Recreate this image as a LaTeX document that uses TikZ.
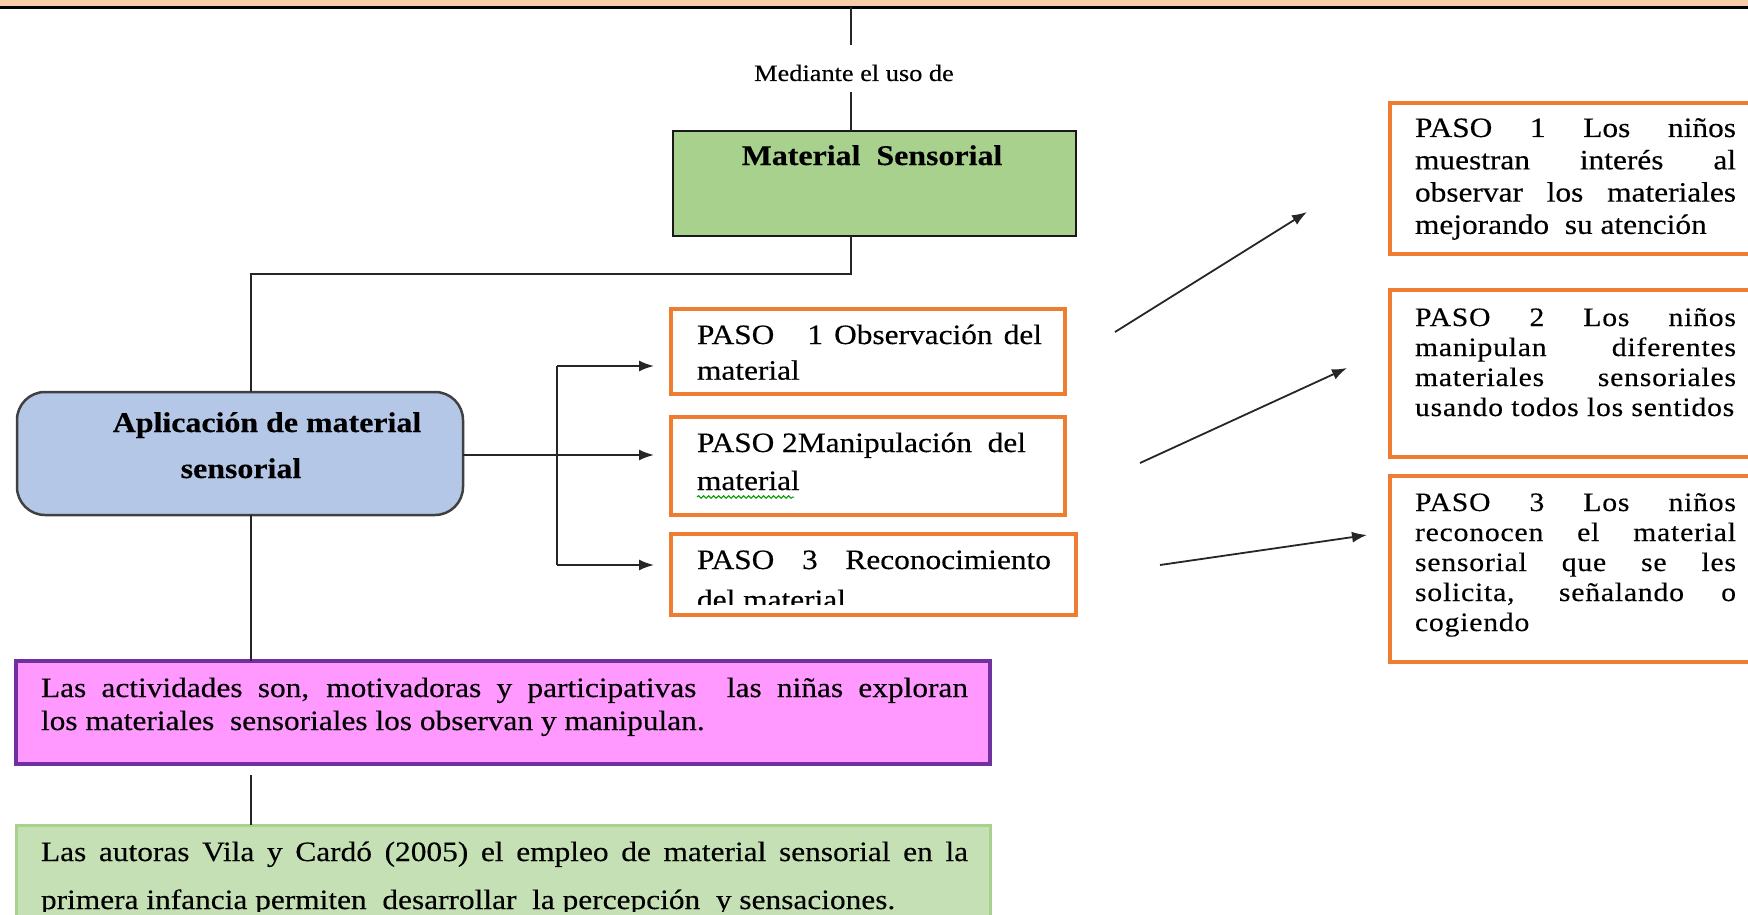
\documentclass[tikz,border=0pt]{standalone}
\usepackage{fontspec}
\setmainfont[FakeStretch=1.12,FakeBold=0.35]{Liberation Serif}
\usetikzlibrary{arrows.meta,decorations.pathmorphing}
\definecolor{peach}{HTML}{F8CBAD}
\definecolor{matgreen}{HTML}{A9D18E}
\definecolor{apblue}{HTML}{B4C7E7}
\definecolor{pasoorange}{HTML}{ED7D31}
\definecolor{pinkfill}{HTML}{FF99FF}
\definecolor{purpleb}{HTML}{7030A0}
\definecolor{lightgreen}{HTML}{C5E0B4}
\definecolor{greenborder}{HTML}{A9D18E}
\begin{document}
\begin{tikzpicture}[x=1pt,y=-1pt,
  box/.style={rectangle, inner sep=0pt, outer sep=0pt},
  pasobox/.style={box, draw=pasoorange, line width=4pt, fill=white},
  txt/.style={inner sep=0pt, outer sep=0pt, anchor=base west, align=justify},
  conn/.style={line width=1.8pt, draw=black!85},
  arr/.style={conn, -{Latex[length=15pt,width=11pt]}},
  body/.style={font=\fontsize{28}{#1}\selectfont},
  bold/.style={font=\bfseries\fontsize{28.5}{33}\selectfont, inner sep=0pt, anchor=base},
]
\useasboundingbox (0,0) rectangle (1748,915);
\clip (0,0) rectangle (1748,915);

% top band
\node[box, draw=black, line width=2.5pt, fill=peach, minimum width=1800pt, minimum height=40pt, anchor=south] (band) at (874,7.5) {};
\coordinate (m1) at (851,45);
\coordinate (m2) at (851,92);
\node[inner sep=0pt, font=\fontsize{23.5}{28}\selectfont, anchor=base] (med) at (854,81) {Mediante el uso de};
\draw[conn] (band.south -| m1) -- (m1);

% Material sensorial
\node[box, draw=black!90, line width=2.5pt, fill=matgreen, minimum width=403pt, minimum height=105pt] (mat) at (874.5,183.5) {};
\node[bold] (matt) at (872,165) {Material\ \ Sensorial};
\draw[conn] (m2) -- (m2 |- mat.north);

% Aplicacion
\node[box, draw=black!75, line width=2.5pt, fill=apblue, rounded corners=28pt, minimum width=446pt, minimum height=123pt] (aplic) at (240,453.5) {};
\node[bold] (ap1) at (267,432) {Aplicación de material};
\node[bold] (ap2) at (241,478) {sensorial};

\coordinate (j1) at (251,274);
\draw[conn] (m2 |- mat.south) |- (j1) -- (j1 |- aplic.north);

% PASO boxes
\node[pasobox, minimum width=394pt, minimum height=85pt] (p1) at (868,351.5) {};
\node[pasobox, minimum width=394pt, minimum height=98pt] (p2) at (868,466) {};
\node[pasobox, minimum width=405pt, minimum height=81pt] (p3) at (873.5,574.5) {};

\node[txt, body=35.7, text width=345pt] (p1t) at (697,344) {PASO\ \ \ 1 Observación del\linebreak material};
\node[txt, body=38, text width=329pt] (p2t) at (697,452) {PASO 2Manipulación\ \ del\linebreak material};
\draw[green!60!black, line width=1pt, decorate, decoration={snake, amplitude=1.3pt, segment length=5pt}] (697,497) -- (794,497);
\begin{scope}
\clip (671,534) rectangle (1076,604);
\node[txt, body=40, text width=354pt] (p3t) at (697,569) {PASO\ \ \ 3\ \ \ Reconocimiento\linebreak del material};
\end{scope}

% arrows to PASO boxes
\coordinate (b1) at (557,366);
\coordinate (b2) at (557,455);
\coordinate (b3) at (557,565);
\draw[conn] (b1) -- (b3);
\draw[arr] (b1) -- ([xshift=-17pt]p1.west |- b1);
\draw[arr] (aplic.east |- b2) -- ([xshift=-17pt]p2.west |- b2);
\draw[arr] (b3) -- ([xshift=-17pt]p3.west |- b3);

% pink box
\node[box, draw=purpleb, line width=4pt, fill=pinkfill, minimum width=974pt, minimum height=103pt] (pink) at (503,712.5) {};
\node[txt, body=33, text width=927pt] (pinkt) at (41,697) {Las actividades son, motivadoras y participativas\ \ las niñas exploran\linebreak los materiales\ \ sensoriales los observan y manipulan.};
\draw[conn] (aplic.south -| j1) -- (pink.north -| j1);

% green box
\node[box, draw=greenborder, line width=3pt, fill=lightgreen, minimum width=974pt, minimum height=120pt, anchor=north] (green) at (503,825) {};
\begin{scope}
\clip (16,825) rectangle (990,911);
\node[txt, body=48, text width=927pt] (greent) at (41,861) {Las autoras Vila y Cardó (2005) el empleo de material sensorial en la\linebreak primera infancia permiten\ \ desarrollar\ \ la percepción\ \ y sensaciones.};
\end{scope}
\coordinate (g1) at (251,775);
\draw[conn] (g1) -- (g1 |- green.north);

% right boxes
\node[pasobox, minimum width=370pt, minimum height=151pt] (r1) at (1575,178.5) {};
\node[pasobox, minimum width=370pt, minimum height=167pt] (r2) at (1575,373.5) {};
\node[pasobox, minimum width=370pt, minimum height=186pt] (r3) at (1575,569) {};

\node[txt, font=\fontsize{28}{32.3}\selectfont, text width=321pt] (r1t) at (1415,137) {PASO 1 Los niños\linebreak muestran interés al\linebreak observar los materiales\linebreak mejorando\ \ su atención};
\node[txt, font=\addfontfeature{LetterSpace=3}\fontsize{26.5}{30}\selectfont, text width=321pt] (r2t) at (1415,326) {PASO 2 Los niños\linebreak manipulan diferentes\linebreak materiales sensoriales\linebreak usando todos los sentidos};
\node[txt, font=\addfontfeature{LetterSpace=3}\fontsize{26.5}{30}\selectfont, text width=321pt] (r3t) at (1415,511) {PASO 3 Los niños\linebreak reconocen el material\linebreak sensorial que se les\linebreak solicita, señalando o\linebreak cogiendo};

% diagonal arrows
\coordinate (a1s) at (1115,332); \coordinate (a1e) at (1307,212);
\coordinate (a2s) at (1140,463); \coordinate (a2e) at (1347,368);
\coordinate (a3s) at (1160,565); \coordinate (a3e) at (1367,535);
\draw[arr] (a1s) -- (a1e);
\draw[arr] (a2s) -- (a2e);
\draw[arr] (a3s) -- (a3e);
\end{tikzpicture}
\end{document}
